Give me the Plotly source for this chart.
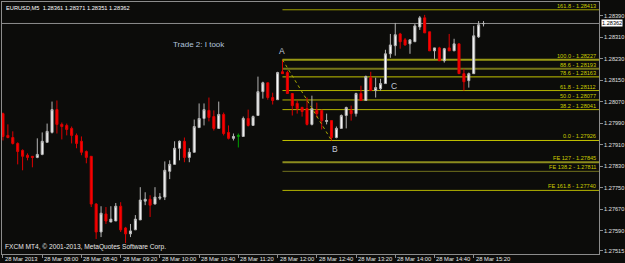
import plotly.graph_objects as go

# ---------------- data ----------------
opens = [1.28026, 1.27945, 1.27937, 1.27915, 1.27889, 1.27871, 1.27867, 1.27863, 1.27874, 1.27919,
         1.27956, 1.28041, 1.27986, 1.27982, 1.27971, 1.27945, 1.27923, 1.27885, 1.27867, 1.27689,
         1.27585, 1.27652, 1.27622, 1.27626, 1.27681, 1.27600, 1.27578, 1.27593, 1.27630, 1.27700,
         1.27707, 1.27689, 1.27711, 1.27715, 1.27811, 1.27837, 1.27897, 1.27923, 1.27863, 1.27882,
         1.27974, 1.28008, 1.28038, 1.28015, 1.27971, 1.28023, 1.27956, 1.27934, 1.27941, 1.27941,
         1.28008, 1.27982, 1.28019, 1.28108, 1.28141, 1.28086, 1.28078, 1.28182, 1.28179, 1.28101,
         1.28064, 1.28049, 1.28045, 1.27986, 1.28038, 1.28038, 1.27997, 1.28000, 1.27937, 1.27971,
         1.28019, 1.28038, 1.28026, 1.28101, 1.28075, 1.28160, 1.28112, 1.28119, 1.28138, 1.28249,
         1.28279, 1.28323, 1.28301, 1.28286, 1.28294, 1.28349, 1.28383, 1.28331, 1.28260, 1.28271,
         1.28223, 1.28271, 1.28260, 1.28286, 1.28175, 1.28149, 1.28175, 1.28312, 1.28361]
highs = [1.28030, 1.27986, 1.27960, 1.27919, 1.27893, 1.27878, 1.27867, 1.27934, 1.27956, 1.27989,
         1.28071, 1.28075, 1.27993, 1.27989, 1.27978, 1.27952, 1.27941, 1.27889, 1.27867, 1.27693,
         1.27681, 1.27678, 1.27681, 1.27693, 1.27696, 1.27604, 1.27615, 1.27648, 1.27752, 1.27733,
         1.27722, 1.27752, 1.27730, 1.27848, 1.27852, 1.27923, 1.27926, 1.27937, 1.27897, 1.28004,
         1.28064, 1.28064, 1.28086, 1.28038, 1.28071, 1.28030, 1.27982, 1.27952, 1.27952, 1.28015,
         1.28041, 1.28019, 1.28164, 1.28145, 1.28141, 1.28104, 1.28182, 1.28227, 1.28186, 1.28101,
         1.28075, 1.28052, 1.28086, 1.28093, 1.28067, 1.28041, 1.28026, 1.28000, 1.27978, 1.28023,
         1.28052, 1.28056, 1.28104, 1.28130, 1.28168, 1.28182, 1.28160, 1.28156, 1.28264, 1.28323,
         1.28364, 1.28327, 1.28308, 1.28301, 1.28360, 1.28390, 1.28394, 1.28331, 1.28271, 1.28275,
         1.28271, 1.28323, 1.28305, 1.28286, 1.28193, 1.28179, 1.28353, 1.28371, 1.28371]
lows = [1.27926, 1.27934, 1.27911, 1.27837, 1.27815, 1.27852, 1.27826, 1.27860, 1.27871, 1.27919,
        1.27952, 1.27952, 1.27930, 1.27945, 1.27915, 1.27897, 1.27871, 1.27841, 1.27678, 1.27559,
        1.27566, 1.27615, 1.27622, 1.27626, 1.27585, 1.27544, 1.27566, 1.27593, 1.27630, 1.27685,
        1.27641, 1.27689, 1.27704, 1.27704, 1.27782, 1.27837, 1.27852, 1.27845, 1.27845, 1.27882,
        1.27974, 1.27982, 1.27997, 1.27963, 1.27971, 1.27945, 1.27930, 1.27926, 1.27900, 1.27941,
        1.27978, 1.27982, 1.28019, 1.28082, 1.28078, 1.28060, 1.28078, 1.28175, 1.28101, 1.28019,
        1.28026, 1.28015, 1.27982, 1.27982, 1.28012, 1.27967, 1.27986, 1.27926, 1.27934, 1.27971,
        1.27971, 1.28000, 1.28015, 1.28075, 1.28075, 1.28112, 1.28086, 1.28112, 1.28138, 1.28234,
        1.28242, 1.28268, 1.28279, 1.28249, 1.28294, 1.28338, 1.28327, 1.28260, 1.28230, 1.28223,
        1.28216, 1.28260, 1.28260, 1.28175, 1.28112, 1.28123, 1.28175, 1.28308, 1.28351]
closes = [1.27941, 1.27937, 1.27915, 1.27885, 1.27867, 1.27863, 1.27863, 1.27874, 1.27923, 1.27960,
          1.28041, 1.27986, 1.27978, 1.27967, 1.27945, 1.27915, 1.27882, 1.27863, 1.27689, 1.27585,
          1.27655, 1.27626, 1.27633, 1.27681, 1.27593, 1.27578, 1.27589, 1.27633, 1.27704, 1.27707,
          1.27685, 1.27715, 1.27715, 1.27815, 1.27837, 1.27897, 1.27923, 1.27863, 1.27882, 1.27978,
          1.28008, 1.28041, 1.28012, 1.27971, 1.28023, 1.27952, 1.27934, 1.27941, 1.27945, 1.28008,
          1.27982, 1.28015, 1.28108, 1.28141, 1.28086, 1.28075, 1.28179, 1.28175, 1.28101, 1.28056,
          1.28045, 1.28034, 1.27986, 1.28045, 1.28026, 1.28000, 1.28000, 1.27937, 1.27971, 1.28019,
          1.28049, 1.28026, 1.28101, 1.28075, 1.28164, 1.28112, 1.28123, 1.28138, 1.28249, 1.28282,
          1.28320, 1.28294, 1.28282, 1.28301, 1.28353, 1.28383, 1.28327, 1.28260, 1.28271, 1.28223,
          1.28268, 1.28260, 1.28286, 1.28175, 1.28145, 1.28175, 1.28316, 1.28357, 1.28362]
green_bars = [48]

tick_bars = [0, 8, 16, 24, 32, 40, 48, 56, 64, 72, 80, 88, 96]
tick_labels = ["28 Mar 2013", "28 Mar 08:00", "28 Mar 08:40", "28 Mar 09:20", "28 Mar 10:00",
               "28 Mar 10:40", "28 Mar 11:20", "28 Mar 12:00", "28 Mar 12:40", "28 Mar 13:20",
               "28 Mar 14:00", "28 Mar 14:40", "28 Mar 15:20"]
price_ticks = [1.28390, 1.28310, 1.28230, 1.28150, 1.28070, 1.27990, 1.27910,
               1.27830, 1.27750, 1.27670, 1.27590, 1.27515]

fib_names = ["161.8", "100.0", "88.6", "78.6", "61.8", "50.0", "38.2", "0.0",
             "FE 127", "FE 138.2", "FE 161.8"]
fib_prices = [1.28413, 1.28227, 1.28193, 1.28163, 1.28112, 1.28077, 1.28041, 1.27926,
              1.27845, 1.27811, 1.27740]
fib_start_bar = 57

point_names = ["A", "B", "C"]
point_bars = [57, 67, 79.7]
point_prices = [1.28227, 1.27926, 1.28130]

symbol = "EURUSD,M5"
note_text = "Trade 2: I took"
copyright_text = "FXCM MT4, \u00a9 2001-2013, MetaQuotes Software Corp."

# ---------------- figure ----------------
BG = "#0c0c0a"
FONT = "Liberation Sans, Arial, sans-serif"
X_MIN, X_MAX = -0.2, 121.55
Y_MIN, Y_MAX = 1.27503, 1.28442

n = len(opens)
normal = [i for i in range(n) if i not in green_bars]

fig = go.Figure()

fig.add_trace(go.Candlestick(
    x=normal,
    open=[opens[i] for i in normal], high=[highs[i] for i in normal],
    low=[lows[i] for i in normal], close=[closes[i] for i in normal],
    increasing=dict(fillcolor="#ffffff", line=dict(color="#b4b4b4", width=1)),
    decreasing=dict(fillcolor="#ff0000", line=dict(color="#dc0000", width=1)),
    whiskerwidth=0, showlegend=False, hoverinfo="skip",
))
fig.add_trace(go.Candlestick(
    x=green_bars,
    open=[opens[i] for i in green_bars], high=[highs[i] for i in green_bars],
    low=[lows[i] for i in green_bars], close=[closes[i] for i in green_bars],
    increasing=dict(fillcolor="#00a000", line=dict(color="#00a000", width=1)),
    decreasing=dict(fillcolor="#00a000", line=dict(color="#00a000", width=1)),
    whiskerwidth=0, showlegend=False, hoverinfo="skip",
))

# dotted A -> B line
fig.add_trace(go.Scatter(
    x=point_bars[:2], y=point_prices[:2], mode="lines",
    line=dict(color="#a8a800", width=1, dash="dot"),
    showlegend=False, hoverinfo="skip",
))

fib_styles = [
    ("#a0a000", 1), ("#9a9a14", 2), ("#74741a", 2), ("#c4c400", 1),
    ("#b4b400", 1), ("#b4b400", 1), ("#b4b400", 1), ("#c4c400", 1),
    ("#8c8c1e", 2), ("#70701e", 1), ("#b4b400", 1),
]
shapes = []
annotations = []
for name, price, (col, w) in zip(fib_names, fib_prices, fib_styles):
    shapes.append(dict(type="line", xref="x", yref="y", x0=fib_start_bar, x1=X_MAX,
                       y0=price, y1=price, line=dict(color=col, width=w), layer="below"))
    annotations.append(dict(xref="paper", yref="y", x=1, y=price, xanchor="right",
                            yanchor="bottom", xshift=-2, yshift=0, borderpad=0,
                            text=f"{name} - {price:.5f}", showarrow=False,
                            font=dict(family=FONT, size=5.6, color="#cccc00")))

bid = closes[-1]
shapes.append(dict(type="line", xref="paper", yref="y", x0=0, x1=1, y0=bid, y1=bid,
                   line=dict(color="#8c8c8c", width=1), layer="below"))
annotations.append(dict(xref="paper", yref="y", x=1, y=bid, xanchor="left", yanchor="middle",
                        xshift=2, text=f"{bid:.5f}", showarrow=False, bgcolor="#ffffff",
                        borderpad=0, font=dict(family=FONT, size=5.6, color="#000000")))

# x tick labels (left aligned like MT4)
for b, lab in zip(tick_bars, tick_labels):
    annotations.append(dict(xref="x", yref="paper", x=b, y=0, xanchor="left", yanchor="top",
                            xshift=1, yshift=-1, text=lab, showarrow=False, borderpad=0,
                            font=dict(family=FONT, size=5.8, color="#e4e4e4")))

# header
o, h, l, c = opens[-1], highs[-1], lows[-1], closes[-1]
annotations.append(dict(xref="paper", yref="paper", x=0, y=1, xanchor="left", yanchor="top",
                        xshift=3, yshift=-2, showarrow=False, borderpad=0,
                        text=f"{symbol}  {o:.5f} {h:.5f} {l:.5f} {c:.5f}",
                        font=dict(family=FONT, size=5.7, color="#ffffff")))
annotations.append(dict(xref="paper", yref="paper", x=0, y=0, xanchor="left", yanchor="bottom",
                        xshift=2, yshift=2, showarrow=False, borderpad=0, text=copyright_text,
                        font=dict(family=FONT, size=6.6, color="#e8e8e8")))
annotations.append(dict(xref="paper", yref="y", x=0.2855, y=1.28282, xanchor="left",
                        yanchor="middle", showarrow=False, borderpad=0, text=note_text,
                        font=dict(family=FONT, size=8, color="#b0c4de")))

# A / B / C
annotations.append(dict(xref="x", yref="y", x=point_bars[0], y=point_prices[0], xanchor="center",
                        yanchor="bottom", yshift=3, showarrow=False, borderpad=0, text=point_names[0],
                        font=dict(family=FONT, size=8.5, color="#c0c8d8")))
annotations.append(dict(xref="x", yref="y", x=point_bars[1], y=point_prices[1], xanchor="center",
                        yanchor="top", xshift=3, yshift=-3, showarrow=False, borderpad=0,
                        text=point_names[1], font=dict(family=FONT, size=8.5, color="#c0c8d8")))
annotations.append(dict(xref="x", yref="y", x=point_bars[2], y=point_prices[2], xanchor="center",
                        yanchor="middle", showarrow=False, borderpad=0, text=point_names[2],
                        font=dict(family=FONT, size=8.5, color="#c0c8d8")))

fig.update_layout(
    width=625, height=263,
    margin=dict(l=1, r=25, t=1, b=9),
    paper_bgcolor=BG, plot_bgcolor=BG,
    boxgap=0.4,
    shapes=shapes, annotations=annotations,
    xaxis=dict(range=[X_MIN, X_MAX], rangeslider=dict(visible=False), showgrid=False,
               zeroline=False, showline=True, mirror=True, linecolor="#8c8c8c", linewidth=1,
               tickmode="array", tickvals=tick_bars, ticktext=[""] * len(tick_bars),
               ticks="outside", ticklen=3, tickcolor="#8c8c8c", fixedrange=True),
    yaxis=dict(range=[Y_MIN, Y_MAX], side="right", showgrid=False, zeroline=False,
               showline=True, mirror=True, linecolor="#8c8c8c", linewidth=1,
               tickmode="array", tickvals=price_ticks,
               ticktext=[f"{p:.5f}" for p in price_ticks],
               ticks="outside", ticklen=3, tickcolor="#8c8c8c",
               tickfont=dict(family=FONT, size=5.6, color="#e0e0e0"), fixedrange=True),
    showlegend=False,
)

fig.write_html("out.html")
